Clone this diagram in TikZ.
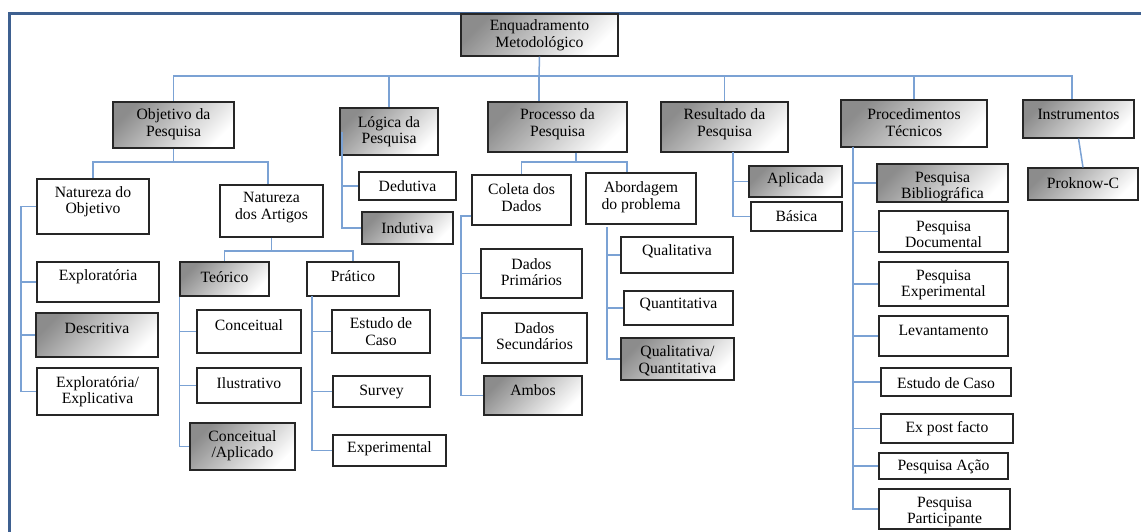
\documentclass[tikz,border=0pt]{standalone}
\usepackage{fontspec}
\setmainfont{Liberation Serif}
\definecolor{conncol}{HTML}{7BA2D4}
\definecolor{framecol}{HTML}{3E6090}
\tikzset{
  box/.style={draw=black!85, line width=1.2pt, inner sep=0pt, rectangle},
  wbox/.style={box, fill=white},
  gbox/.style={box, top color=black!45, bottom color=white, shading angle=45},
  lab/.style={align=center, font=\fontsize{15.7}{16.5}\selectfont, inner sep=0pt, text=black},
  conn/.style={draw=conncol, line width=1.5pt},
  frameline/.style={draw=framecol, line width=3pt},
}
% style, name, x1, y1, x2, y2, text shift, text
\newcommand\mybox[8]{%
  \node[#1, minimum width={#5-#3}, minimum height={#6-#4},
        label={[lab,yshift=#7]center:{#8}}] (#2) at ({(#3+#5)/2},{(#4+#6)/2}) {};}
\begin{document}
\begin{tikzpicture}[x=1pt,y=-1pt]
\useasboundingbox (0,0) rectangle (1141,532);
\draw[frameline] (9,532) -- (9,14) -- (1141,14);

% level 0 and 1
\mybox{gbox}{enq}{461}{14}{618}{56}{0}{Enquadramento\\Metodológico}
\mybox{gbox}{obj}{113}{102}{234}{148}{1}{Objetivo da\\Pesquisa}
\mybox{gbox}{log}{340}{108}{438}{155}{0}{Lógica da\\Pesquisa}
\mybox{gbox}{proc}{488}{102}{627}{152}{3}{Processo da\\Pesquisa}
\mybox{gbox}{res}{661}{102}{788}{152}{3}{Resultado da\\Pesquisa}
\mybox{gbox}{proct}{841}{100}{987}{147}{1}{Procedimentos\\Técnicos}
\mybox{gbox}{ins}{1023}{100}{1134}{138}{5}{Instrumentos}
\mybox{gbox}{prok}{1028}{168}{1138}{200}{1}{Proknow-C}

% Objetivo da Pesquisa
\mybox{wbox}{natobj}{37}{179}{149}{234}{5}{Natureza do\\Objetivo}
\mybox{wbox}{natart}{220}{185}{323}{237}{3.5}{Natureza\\dos Artigos}
\mybox{wbox}{expl}{37}{262}{159}{302}{5}{Exploratória}
\mybox{gbox}{desc}{36}{313}{158}{357}{7}{Descritiva}
\mybox{wbox}{exex}{37}{368}{158}{415}{0}{Exploratória/\\Explicativa}
\mybox{gbox}{teo}{180}{262}{269}{296}{2}{Teórico}
\mybox{wbox}{pra}{307}{262}{399}{296}{3}{Prático}
\mybox{wbox}{conc}{197}{310}{301}{353}{6.5}{Conceitual}
\mybox{wbox}{ilu}{197}{368}{301}{403}{2.5}{Ilustrativo}
\mybox{gbox}{conap}{190}{423}{295}{470}{1}{Conceitual\\/Aplicado}
\mybox{wbox}{estc}{332}{310}{430}{353}{0}{Estudo de\\Caso}
\mybox{wbox}{surv}{333}{376}{430}{407}{0}{Survey}
\mybox{wbox}{expe}{333}{435}{446}{466}{1.5}{Experimental}

% Lógica da Pesquisa
\mybox{wbox}{ded}{359}{172}{456}{200}{0}{Dedutiva}
\mybox{gbox}{ind}{362}{212}{453}{244}{0}{Indutiva}

% Processo da Pesquisa
\mybox{wbox}{col}{472}{175}{571}{225}{2.5}{Coleta dos\\Dados}
\mybox{wbox}{abo}{586}{173}{696}{224}{1.5}{Abordagem\\do problema}
\mybox{wbox}{dp}{481}{249}{582}{298}{1.5}{Dados\\Primários}
\mybox{wbox}{ds}{482}{313}{587}{363}{2}{Dados\\Secundários}
\mybox{gbox}{amb}{484}{376}{582}{415}{5.5}{Ambos}
\mybox{wbox}{qual}{621}{237}{733}{273}{4}{Qualitativa}
\mybox{wbox}{quan}{624}{291}{733}{325}{3}{Quantitativa}
\mybox{gbox}{qq}{621}{338}{734}{380}{-2}{Qualitativa/\\Quantitativa}

% Resultado da Pesquisa
\mybox{gbox}{apl}{749}{166}{842}{197}{1.5}{Aplicada}
\mybox{wbox}{bas}{751}{202}{842}{231}{0}{Básica}

% Procedimentos Técnicos
\mybox{gbox}{pbib}{877}{164}{1008}{202}{-4}{Pesquisa\\Bibliográfica}
\mybox{wbox}{pdoc}{879}{211}{1008}{252}{-3}{Pesquisa\\Documental}
\mybox{wbox}{pexp}{879}{262}{1008}{306}{-1}{Pesquisa\\Experimental}
\mybox{wbox}{lev}{879}{316}{1008}{356}{6}{Levantamento}
\mybox{wbox}{pec}{881}{368}{1011}{396}{-1}{Estudo de Caso}
\mybox{wbox}{epf}{881}{414}{1013}{443}{0}{Ex post facto}
\mybox{wbox}{pac}{879}{453}{1008}{479}{-1}{Pesquisa Ação}
\mybox{wbox}{ppar}{879}{489}{1010}{529}{-3}{Pesquisa\\Participante}

% ---------- connectors ----------
\coordinate (bus) at (539,76);
\draw[conn] (enq.south) -- (bus);
\draw[conn] (bus) -| (obj.north);
\draw[conn] (bus) -| (log.north);
\draw[conn] (bus) -- (bus |- proc.north);
\draw[conn] (bus) -| (res.north);
\draw[conn] (bus) -| (proct.north);
\draw[conn] (bus) -| ([xshift=-6.5pt]ins.north);

\coordinate (obus) at (173.5,162);
\draw[conn] (obj.south) -- (obus);
\draw[conn] (obus) -| (natobj.north);
\draw[conn] (obus) -| ([xshift=-3.5pt]natart.north);

\coordinate (notr) at (21,206.5);
\draw[conn] (natobj.west) -- (notr) |- (exex.west);
\draw[conn] (notr) |- (expl.west);
\draw[conn] (notr) |- (desc.west);

\coordinate (abus) at (271.5,251);
\draw[conn] (natart.south) -- (abus);
\draw[conn] (abus) -| (teo.north);
\draw[conn] (abus) -| (pra.north);

\draw[conn] (teo.south west) |- (conc.west);
\draw[conn] (teo.south west) |- (ilu.west);
\draw[conn] (teo.south west) |- (conap.west);

\coordinate (prt) at (312,296);
\draw[conn] (prt) |- (estc.west);
\draw[conn] (prt) |- (surv.west);
\draw[conn] (prt) |- (expe.west);

\coordinate (lt) at (342,132);
\draw[conn] (lt) |- (ded.west);
\draw[conn] (lt) |- (ind.west);

\coordinate (pbus) at (576,162);
\draw[conn] ([xshift=18.5pt]proc.south) -- (pbus);
\draw[conn] (pbus) -| (col.north);
\draw[conn] (pbus) -| ([xshift=-14pt]abo.north);

\coordinate (ctr) at (461,216);
\draw[conn] ([yshift=-16pt]col.west) -- (ctr) |- (amb.west);
\draw[conn] (ctr) |- (dp.west);
\draw[conn] (ctr) |- (ds.west);

\coordinate (abt) at (607,227);
\draw[conn] (abt) |- (qual.west);
\draw[conn] (abt) |- (quan.west);
\draw[conn] (abt) |- (qq.west);

\coordinate (rtr) at (733,152);
\draw[conn] (rtr) |- (apl.west);
\draw[conn] (rtr) |- (bas.west);

\coordinate (ptr) at (853,147);
\foreach \n in {pbib,pdoc,pexp,lev,pec,epf,pac,ppar}
  \draw[conn] (ptr) |- (\n.west);

\draw[conn] (ins.south) -- (prok.north);
\end{tikzpicture}
\end{document}
